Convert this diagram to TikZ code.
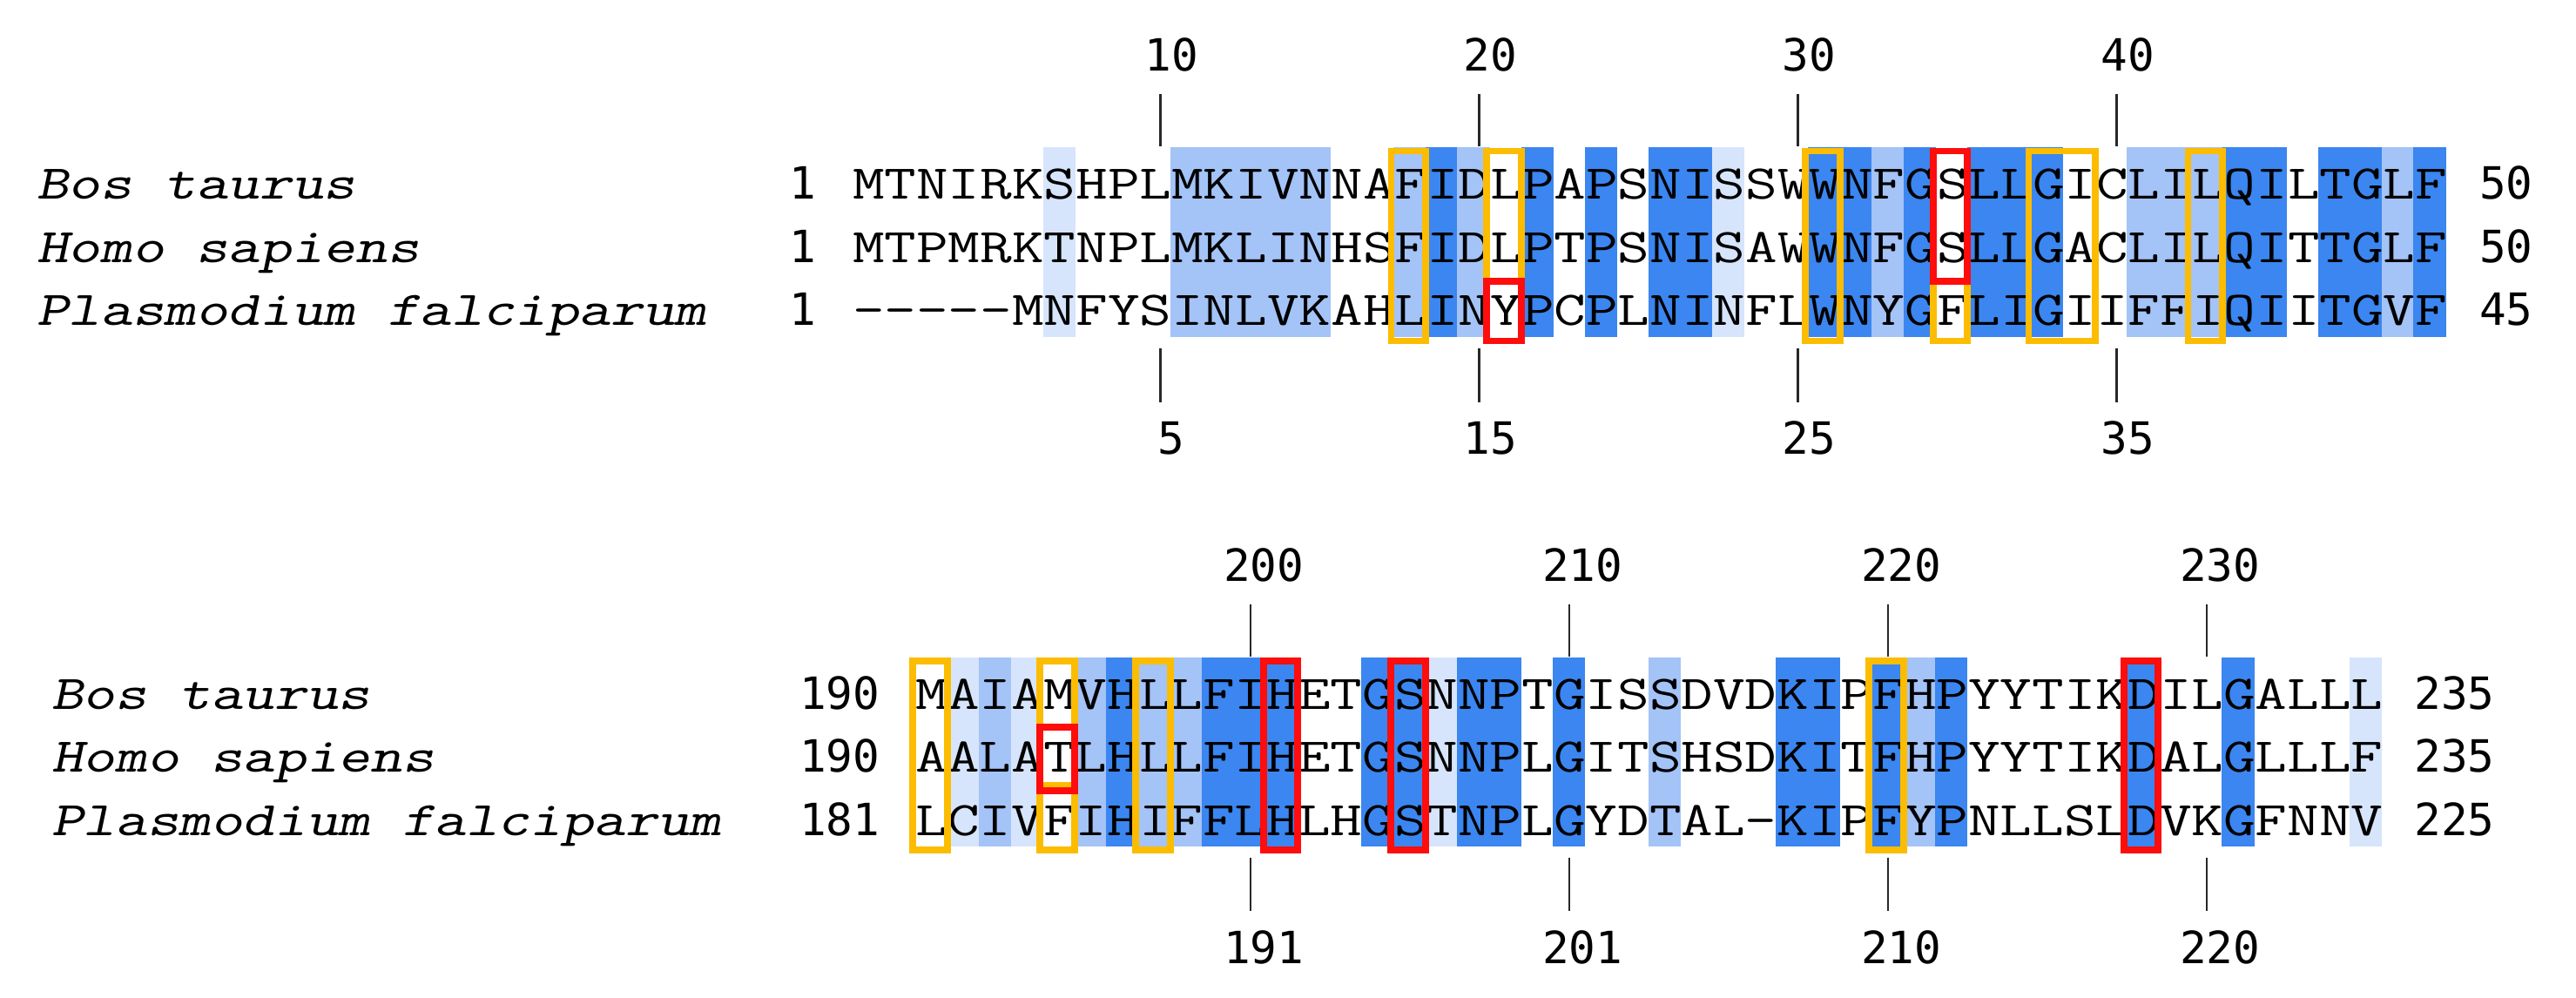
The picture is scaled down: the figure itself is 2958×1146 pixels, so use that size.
\documentclass[tikz,border=0pt]{standalone}
\usepackage{fontspec}
\usepackage{graphicx}
\setmainfont{Liberation Serif}
\newfontfamily\numfont{DejaVu Sans Mono}
\definecolor{cDark}{RGB}{59,134,240}
\definecolor{cMid}{RGB}{164,195,247}
\definecolor{cLight}{RGB}{214,229,251}
\definecolor{cOrange}{RGB}{252,188,0}
\definecolor{cRed}{RGB}{255,12,12}
\definecolor{cTick}{RGB}{40,40,40}
\newcommand\alnbox[6]{\draw[#1] ({#2+(#3-1)*36.6-3},#5) rectangle ({#2+#4*36.6},#6);}
\newcommand\sq[2]{\resizebox{\dimexpr 0.366cm*#1\relax}{\height}{#2}}
\begin{document}
\begin{tikzpicture}[x=0.01cm,y=-0.01cm,
  seq/.style={anchor=base west,inner sep=0pt,font=\ttfamily\fontsize{15.8pt}{18pt}\selectfont},
  nm/.style={anchor=base west,inner sep=0pt,font=\ttfamily\slshape\fontsize{15.8pt}{18pt}\selectfont},
  numr/.style={anchor=base east,inner sep=0pt,font=\numfont\fontsize{14.5pt}{17pt}\selectfont},
  numl/.style={anchor=base west,inner sep=0pt,font=\numfont\fontsize{14.5pt}{17pt}\selectfont},
  lab/.style={anchor=base,inner sep=0pt,font=\numfont\fontsize{14.5pt}{17pt}\selectfont},
  tick/.style={draw=cTick,line width=0.75pt},
  obox/.style={draw=cOrange,line width=2.25pt},
  rbox/.style={draw=cRed,line width=2.25pt}]
\useasboundingbox (0,0) rectangle (2958,1146);
\fill[white] (0,0) rectangle (2958,1146);
% ---------------- top block ----------------
\def\XA{978.3}
\def\W{36.6}
\foreach \c/\k in {7/cLight,11/cMid,12/cMid,13/cMid,14/cMid,15/cMid,18/cMid,19/cDark,20/cMid,22/cDark,24/cDark,26/cDark,27/cDark,28/cLight,31/cDark,32/cDark,33/cMid,34/cDark,36/cDark,37/cDark,38/cDark,41/cMid,42/cMid,43/cMid,44/cDark,45/cDark,47/cDark,48/cDark,49/cMid,50/cDark}
  \fill[\k] ({\XA+(\c-1)*\W-0.3},169.5) rectangle ({\XA+\c*\W+0.3},387.5);
\node[nm] (tn1) at (41.5,228.5) {\sq{10}{Bos taurus}};
\node[nm] (tn2) at (41.5,301.2) {\sq{12}{Homo sapiens}};
\node[nm] (tn3) at (41.5,373.8) {\sq{21}{Plasmodium falciparum}};
\node[numr] (tl1) at ({\XA-40},228.5) {1};
\node[numr] (tl2) at ({\XA-40},301.2) {1};
\node[numr] (tl3) at ({\XA-40},373.8) {1};
\node[seq] (ts1) at (\XA,228.5) {\sq{50}{MTNIRKSHPLMKIVNNAFIDLPAPSNISSWWNFGSLLGICLILQILTGLF}};
\node[seq] (ts2) at (\XA,301.2) {\sq{50}{MTPMRKTNPLMKLINHSFIDLPTPSNISAWWNFGSLLGACLILQITTGLF}};
\node[seq] (ts3) at (\XA,373.8) {\sq{50}{-\kern0pt-\kern0pt-\kern0pt-\kern0pt-MNFYSINLVKAHLINYPCPLNINFLWNYGFLIGIIFFIQIITGVF}};
\node[numl] (tr1) at ({\XA+50*\W+38},228.5) {50};
\node[numl] (tr2) at ({\XA+50*\W+38},301.2) {50};
\node[numl] (tr3) at ({\XA+50*\W+38},373.8) {45};
\foreach \c/\u/\d in {10/10/5,20/20/15,30/30/25,40/40/35}{
  \coordinate (tua\u) at ({\XA+(\c-1)*\W+0.67*\W},108);
  \coordinate (tub\u) at ({\XA+(\c-1)*\W+0.67*\W},168);
  \coordinate (tda\u) at ({\XA+(\c-1)*\W+0.67*\W},400);
  \coordinate (tdb\u) at ({\XA+(\c-1)*\W+0.67*\W},462);
  \draw[tick] (tua\u) -- (tub\u);
  \draw[tick] (tda\u) -- (tdb\u);
  \node[lab] (tU\u) at ({\XA+(\c-1)*\W+0.67*\W+13},81.7) {\u};
  \node[lab] (tD\u) at ({\XA+(\c-1)*\W+0.67*\W+13},521.7) {\d};
}
\alnbox{obox}{978.3}{18}{18}{173.5}{391.5}
\alnbox{obox}{978.3}{21}{21}{173.5}{322.8}
\alnbox{obox}{978.3}{31}{31}{173.5}{391.5}
\alnbox{obox}{978.3}{35}{35}{322.8}{391.5}
\alnbox{obox}{978.3}{38}{39}{173.5}{391.5}
\alnbox{obox}{978.3}{43}{43}{173.5}{391.5}
\alnbox{rbox}{978.3}{21}{21}{322.8}{391.5}
\alnbox{rbox}{978.3}{35}{35}{173.5}{322.8}
% ---------------- bottom block ----------------
\def\XB{1051}
\foreach \c/\k in {2/cLight,3/cMid,4/cLight,6/cMid,7/cDark,8/cMid,9/cMid,10/cDark,11/cDark,12/cDark,15/cDark,16/cDark,17/cLight,18/cDark,19/cDark,21/cDark,24/cMid,28/cDark,29/cDark,31/cDark,32/cMid,33/cDark,39/cDark,42/cDark,46/cLight}
  \fill[\k] ({\XB+(\c-1)*\W-0.3},755) rectangle ({\XB+\c*\W+0.3},972);
\node[nm] (bn1) at (58.5,814) {\sq{10}{Bos taurus}};
\node[nm] (bn2) at (58.5,886.6) {\sq{12}{Homo sapiens}};
\node[nm] (bn3) at (58.5,959.3) {\sq{21}{Plasmodium falciparum}};
\node[numr] (bl1) at ({\XB-40},814) {190};
\node[numr] (bl2) at ({\XB-40},886.6) {190};
\node[numr] (bl3) at ({\XB-40},959.3) {181};
\node[seq] (bs1) at (\XB,814) {\sq{46}{MAIAMVHLLFIHETGSNNPTGISSDVDKIPFHPYYTIKDILGALLL}};
\node[seq] (bs2) at (\XB,886.6) {\sq{46}{AALATLHLLFIHETGSNNPLGITSHSDKITFHPYYTIKDALGLLLF}};
\node[seq] (bs3) at (\XB,959.3) {\sq{46}{LCIVFIHIFFLHLHGSTNPLGYDTAL-KIPFYPNLLSLDVKGFNNV}};
\node[numl] (br1) at ({\XB+46*\W+37},814) {235};
\node[numl] (br2) at ({\XB+46*\W+37},886.6) {235};
\node[numl] (br3) at ({\XB+46*\W+37},959.3) {225};
\foreach \c/\u/\d in {11/200/191,21/210/201,31/220/210,41/230/220}{
  \coordinate (bua\u) at ({\XB+(\c-1)*\W+0.52*\W},693.5);
  \coordinate (bub\u) at ({\XB+(\c-1)*\W+0.52*\W},753.5);
  \coordinate (bda\u) at ({\XB+(\c-1)*\W+0.52*\W},984.5);
  \coordinate (bdb\u) at ({\XB+(\c-1)*\W+0.52*\W},1046);
  \draw[tick] (bua\u) -- (bub\u);
  \draw[tick] (bda\u) -- (bdb\u);
  \node[lab] (bU\u) at ({\XB+(\c-1)*\W+0.52*\W+15},667.2) {\u};
  \node[lab] (bD\u) at ({\XB+(\c-1)*\W+0.52*\W+15},1106.2) {\d};
}
\alnbox{obox}{1051}{1}{1}{759}{976}
\alnbox{obox}{1051}{5}{5}{759}{835.3}
\alnbox{obox}{1051}{5}{5}{901.7}{976}
\alnbox{obox}{1051}{8}{8}{759}{976}
\alnbox{obox}{1051}{31}{31}{759}{976}
\alnbox{rbox}{1051}{5}{5}{835.3}{907.7}
\alnbox{rbox}{1051}{12}{12}{759}{976}
\alnbox{rbox}{1051}{16}{16}{759}{976}
\alnbox{rbox}{1051}{39}{39}{759}{976}
\end{tikzpicture}
\end{document}
